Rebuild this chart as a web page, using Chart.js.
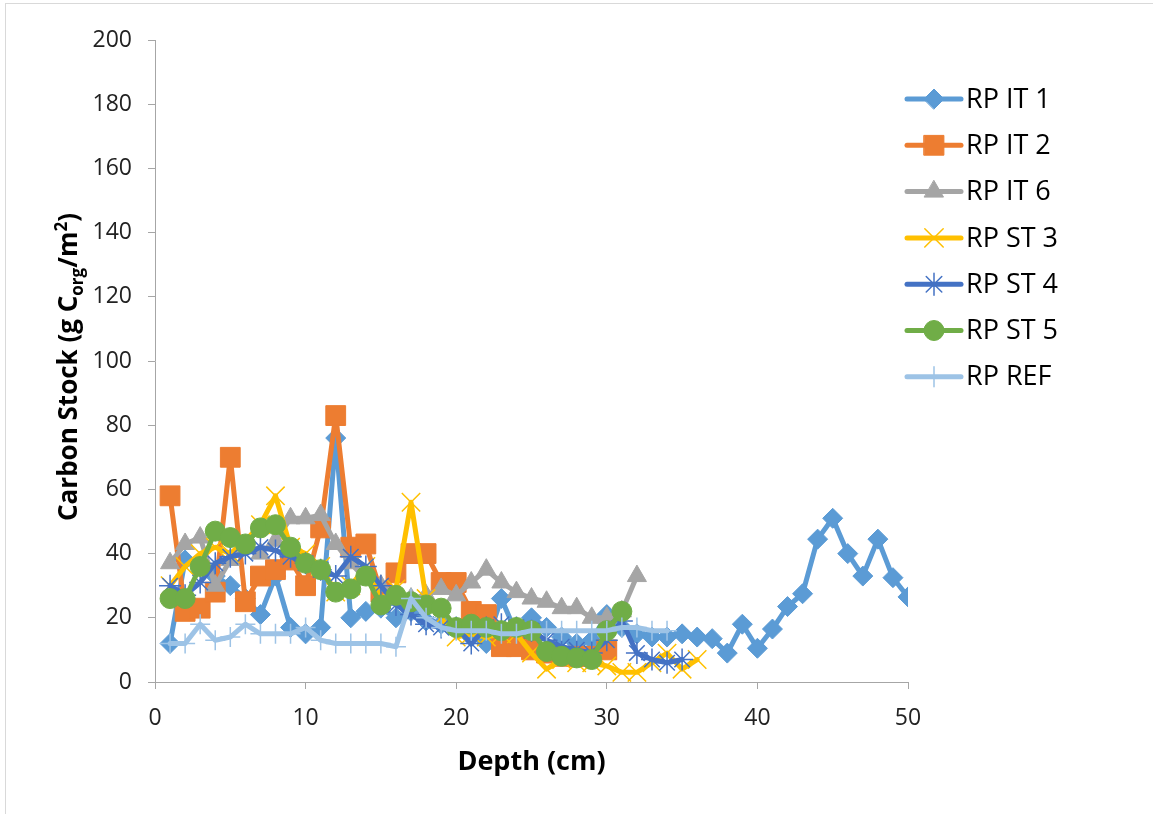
<!DOCTYPE html>
<html>
<head>
<meta charset="utf-8">
<title>Carbon stock by depth</title>
<script src="https://cdn.jsdelivr.net/npm/chart.js@4/dist/chart.umd.min.js"></script>
<style>
  html, body { margin: 0; padding: 0; background: #fff; }
  #wrap { width: 1153px; height: 814px; position: relative; }
</style>
</head>
<body>
<div id="wrap"><canvas id="stockChart" width="1153" height="814"></canvas></div>
<script>
// Depth of each slice (cm)
const depths = [1, 2, 3, 4, 5, 6, 7, 8, 9, 10, 11, 12, 13, 14, 15, 16, 17, 18, 19, 20,
  21, 22, 23, 24, 25, 26, 27, 28, 29, 30, 31, 32, 33, 34, 35, 36, 37, 38, 39, 40,
  41, 42, 43, 44, 45, 46, 47, 48, 49, 50];

// Carbon stock per slice (g Corg / m2), one array per core
const rpIt1 = [12, 38, 36, 33, 30, 26, 21, 33, 17, 15, 17, 76, 20, 22, 23, 20, 22, 19, 18, 17,
  14, 12, 26, 15, 20, 17, 14, 12, 13, 21, 17, 15, 14, 14, 15, 14, 13.5, 9, 18, 10.5,
  16.5, 23.5, 27.5, 44.5, 51, 40, 33, 44.5, 32.5, 26.5];
const rpIt2 = [58, 22, 23, 28, 70, 25, 33, 35, 38, 30, 48, 83, 42, 43, 28, 34, 40, 40, 31, 31,
  22, 21, 11, 11, 10, 9, 8, 8, 8, 10];
const rpIt6 = [37, 43, 45, 30, 38, 42, 40, 44, 51, 51, 52, 43, 37, 32, 30, 27, 26, 27, 29, 27,
  31, 35, 31, 28, 26, 25, 23, 23, 20, 20, 22, 33];
const rpSt3 = [30, 36, 40, 42, 40, 44, 49, 58, 42, 40, 36, 28, 30, 36, 26, 29, 56, 26, 20, 14,
  15, 14, 15, 15, 9, 4, 7, 6, 6, 5, 3, 3, 6, 9, 4, 7];
const rpSt4 = [30, 27, 31, 37, 39, 40, 42, 41, 39, 37, 35, 33, 39, 36, 30, 24, 21, 18, 17, 17,
  12, 17, 18, 17, 16, 13, 11, 10, 9, 13, 19, 9, 7, 6, 7];
const rpSt5 = [26, 26, 36, 47, 45, 43, 48, 49, 42, 37, 35, 28, 29, 33, 24, 27, 25, 24, 23, 17,
  18, 17, 16, 17, 16, 9.5, 8, 7.5, 7, 16, 22];
const rpRef = [12, 12, 18, 13, 14, 18, 15, 15, 15, 17, 13, 12, 12, 12, 12, 11, 26, 20, 17, 16,
  16, 16, 15, 15, 16, 16, 16, 16, 16, 16, 17, 17, 16, 16];

const seriesNames = ['RP IT 1', 'RP IT 2', 'RP IT 6', 'RP ST 3', 'RP ST 4', 'RP ST 5', 'RP REF'];
const seriesValues = [rpIt1, rpIt2, rpIt6, rpSt3, rpSt4, rpSt5, rpRef];

// Axis ranges and titles
const xTicks = [0, 10, 20, 30, 40, 50];
const yTicks = [0, 20, 40, 60, 80, 100, 120, 140, 160, 180, 200];
const xTitle = 'Depth (cm)';
const yTitleParts = ['Carbon Stock (g C', 'org', '/m', '2', ')'];

// Look of each series: line colour, marker shape and size
const styles = [
  { color: '#5B9BD5', shape: 'rectRot', r: 10, bw: 1 },
  { color: '#ED7D31', shape: 'rect', r: 14, bw: 1 },
  { color: '#A5A5A5', shape: 'triangle', r: 11, bw: 1 },
  { color: '#FFC000', shape: 'crossRot', r: 13, bw: 1.5 },
  { color: '#4472C4', shape: 'star', r: 11, bw: 1.5 },
  { color: '#70AD47', shape: 'circle', r: 10, bw: 1 },
  { color: '#9DC3E6', shape: 'cross', r: 10, bw: 1.5 },
];

const FONT = '"Open Sans", "Noto Sans", sans-serif';

const datasets = seriesNames.map((name, i) => ({
  label: name,
  data: seriesValues[i].map((v, k) => ({ x: depths[k], y: v })),
  borderColor: styles[i].color,
  backgroundColor: styles[i].color,
  borderWidth: 5,
  borderJoinStyle: 'round',
  borderCapStyle: 'round',
  pointStyle: styles[i].shape,
  pointRadius: styles[i].r,
  pointBackgroundColor: styles[i].color,
  pointBorderColor: styles[i].color,
  pointBorderWidth: styles[i].bw,
  tension: 0,
  // later series sit on top, like the spreadsheet draws them
  order: seriesNames.length - i,
}));

// Frame, axis titles and legend are drawn by hand
const decorations = {
  id: 'decorations',
  beforeDraw(chart) {
    const ctx = chart.ctx;
    ctx.save();
    ctx.strokeStyle = '#D9D9D9';
    ctx.lineWidth = 1;
    ctx.strokeRect(5.5, 3.5, 1160, 830);
    ctx.restore();
  },
  afterDraw(chart) {
    const ctx = chart.ctx;
    const area = chart.chartArea;
    ctx.save();
    ctx.fillStyle = '#000';

    // x title
    ctx.font = 'bold 27px ' + FONT;
    ctx.textAlign = 'center';
    ctx.textBaseline = 'middle';
    ctx.fillText(xTitle, (area.left + area.right) / 2, 762);

    // y title with subscript and superscript
    const big = 'bold 26px ' + FONT;
    const small = 'bold 17px ' + FONT;
    const pieces = [
      { t: yTitleParts[0], f: big, dy: 0 },
      { t: yTitleParts[1], f: small, dy: 6 },
      { t: yTitleParts[2], f: big, dy: 0 },
      { t: yTitleParts[3], f: small, dy: -10 },
      { t: yTitleParts[4], f: big, dy: 0 },
    ];
    let total = 0;
    pieces.forEach((p) => { ctx.font = p.f; p.w = ctx.measureText(p.t).width; total += p.w; });
    ctx.translate(68, (area.top + area.bottom) / 2 + 6);
    ctx.rotate(-Math.PI / 2);
    ctx.textAlign = 'left';
    ctx.textBaseline = 'alphabetic';
    let x = -total / 2;
    pieces.forEach((p) => {
      ctx.font = p.f;
      ctx.fillText(p.t, x, 9 + p.dy);
      x += p.w;
    });
    ctx.setTransform(1, 0, 0, 1, 0, 0);

    // legend: line with marker, then name
    chart.data.datasets.forEach((ds, i) => {
      const y = 99 + i * 46.3;
      ctx.strokeStyle = ds.borderColor;
      ctx.lineWidth = ds.borderWidth;
      ctx.lineCap = 'round';
      ctx.beginPath();
      ctx.moveTo(907, y);
      ctx.lineTo(961, y);
      ctx.stroke();
      ctx.fillStyle = ds.pointBackgroundColor;
      ctx.strokeStyle = ds.pointBorderColor;
      ctx.lineWidth = ds.pointBorderWidth;
      if (Chart.helpers && Chart.helpers.drawPoint) {
        Chart.helpers.drawPoint(ctx, {
          pointStyle: ds.pointStyle, radius: ds.pointRadius, rotation: 0, borderWidth: ds.pointBorderWidth,
        }, 934, y);
      }
      ctx.fillStyle = '#000';
      ctx.font = '27px ' + FONT;
      ctx.textAlign = 'left';
      ctx.textBaseline = 'middle';
      ctx.fillText(ds.label, 966, y + 1);
    });
    ctx.restore();
  },
};

const axisGrid = { display: true, drawOnChartArea: false, drawTicks: true, tickLength: 7, color: '#A6A6A6', lineWidth: 1 };
const axisBorder = { display: true, color: '#A6A6A6', width: 1 };

new Chart(document.getElementById('stockChart'), {
  type: 'line',
  data: { datasets },
  plugins: [decorations],
  options: {
    responsive: false,
    devicePixelRatio: 1,
    animation: false,
    layout: { padding: { left: 0, right: 245, top: 40, bottom: 0 } },
    scales: {
      x: {
        type: 'linear',
        min: xTicks[0],
        max: xTicks[xTicks.length - 1],
        afterBuildTicks: (scale) => { scale.ticks = xTicks.map((v) => ({ value: v })); },
        afterFit: (scale) => { scale.height = 814 - 682; },
        grid: axisGrid,
        border: axisBorder,
        ticks: { font: { family: FONT, size: 23 }, color: '#222', padding: 16, maxRotation: 0 },
      },
      y: {
        type: 'linear',
        min: yTicks[0],
        max: yTicks[yTicks.length - 1],
        afterBuildTicks: (scale) => { scale.ticks = yTicks.map((v) => ({ value: v })); },
        afterFit: (scale) => { scale.width = 155; },
        grid: axisGrid,
        border: axisBorder,
        ticks: { font: { family: FONT, size: 23 }, color: '#222', padding: 16 },
      },
    },
    plugins: {
      legend: { display: false },
      tooltip: { enabled: false },
    },
  },
});
</script>
</body>
</html>
